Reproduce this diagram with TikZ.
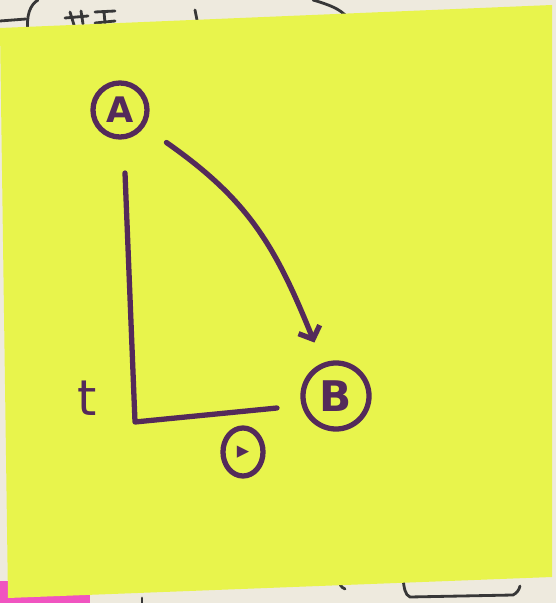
\documentclass[tikz,border=0pt]{standalone}
\usepackage{fontspec}
\setsansfont{DejaVu Sans}
\usetikzlibrary{arrows.meta, shapes.geometric}
\definecolor{noteyellow}{RGB}{232,244,76}
\definecolor{paper}{RGB}{238,234,222}
\definecolor{pen}{RGB}{84,42,90}
\definecolor{tabpink}{RGB}{240,84,192}
\definecolor{ink}{RGB}{55,55,55}

\begin{document}
\begin{tikzpicture}[x = 0.01cm, y = 0.01cm,
    pen/.style = {draw = pen, line width = 1.5pt, line cap = round, line join = round},
    ringnode/.style = {circle, draw = pen, line width = 1.5pt, inner sep = 0pt, minimum size = #1, text = pen},
    scrap/.style = {draw = ink, line width = 0.8pt, line cap = round}]
    \def\noteW{552}
    \def\noteH{603}

    %background paper
    \fill[paper] (0,0) rectangle (556,\noteH);
    \useasboundingbox (0,0) rectangle (556,\noteH);
    \fill[tabpink] (0,0) rectangle (90,22);
    \draw[scrap] (28,570) .. controls (26,588) and (30,598) .. (38,603);
    \draw[scrap] (0,582) -- (26,584);
    \draw[scrap] (70,591) -- (74,578) (65,585) -- (88,587) (81,592) -- (83,579);
    \draw[scrap] (95,591) -- (115,592) (95,580) -- (115,582) (104,591) -- (105,580);
    \draw[scrap] (195,593) -- (197,583);
    \draw[scrap] (313,603) .. controls (330,598) and (340,594) .. (347,586);
    \draw[scrap] (142,0) -- (142,5);
    \draw[scrap] (350,25) .. controls (340,27) and (336,18) .. (345,14);
    \draw[scrap] (403,25) .. controls (404,15) and (405,8) .. (410,6) -- (513,8) .. controls (517,10) and (519,13) .. (520,17);

    %sticky note
    \fill[noteyellow] (0,575) -- (\noteW,598) -- (\noteW,26) -- (8,5) -- cycle;

    %circled labels
    \node[ringnode = 0.54cm, font = \sffamily\bfseries\fontsize{10}{10}\selectfont] (A) at (120,493) {A};
    \node[ringnode = 0.66cm, font = \sffamily\bfseries\fontsize{12}{12}\selectfont] (B) at (336,207) {B};
    \node[ellipse, draw = pen, line width = 1.5pt, inner sep = 0pt, minimum width = 0.4cm, minimum height = 0.48cm,
        text = pen, font = \sffamily\fontsize{7}{7}\selectfont] (a) at (243,151) {▸};
    \node[text = pen, font = \sffamily\fontsize{14}{14}\selectfont] (t) at (87,205) {t};

    %axes
    \coordinate (axisTop) at (125,430);
    \coordinate (origin) at (135,181);
    \coordinate (axisEnd) at (277,195);
    \draw[pen] (axisTop) -- (origin) -- (axisEnd);

    %arrow from A to B
    \draw[pen, -{Straight Barb[length = 3pt, width = 6.5pt]}, shorten <= 0.27cm, shorten >= 0.22cm]
        (A) to[out = -35, in = 112, looseness = 1.1] (B);
\end{tikzpicture}
\end{document}
